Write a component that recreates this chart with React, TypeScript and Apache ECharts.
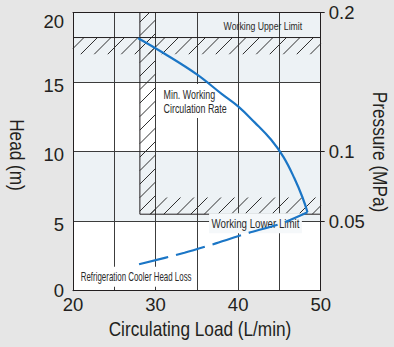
import React, { useEffect, useRef } from 'react';
import * as echarts from 'echarts';

// ---- data ----
const flowTicks = [20, 30, 40, 50];
const headTicks = [0, 5, 10, 15, 20];
const pressureTicks = [0.05, 0.1, 0.2];

const pumpFlow = [27.9, 31.0, 35.0, 38.0, 40.0, 42.0, 44.0, 45.5, 46.8, 47.8, 48.4];
const pumpHead = [18.15, 17.07, 15.55, 14.15, 13.25, 12.1, 10.85, 9.6, 8.1, 6.7, 5.64];

const lossFlow = [28.0, 33.5, 37.3, 41.5, 45.1, 48.4];
const lossHead = [1.9, 2.73, 3.4, 4.2, 4.8, 5.64];

const upperLimit = 18.2;
const lowerLimit = 5.5;
const minRate = 28.1;

const headBands = [[0, 5], [5, 10], [10, 15], [15, 20]];
const hatchRegions = [
  [20, 50, 17.0, 18.2],
  [28.1, 30, 5.5, 20],
  [28.1, 50, 5.5, 6.7],
];

const notes = [
  'Working Upper Limit',
  'Min. Working\nCirculation Rate',
  'Working Lower Limit',
  'Refrigeration Cooler Head Loss',
];
const noteFlow = [43.0, 30.7, 42.1, 20.7];
const noteHead = [19.03, 13.63, 4.85, 1.0];

const axisTitles = ['Circulating Load (L/min)', 'Head (m)', 'Pressure (MPa)'];

// ---- styles ----
const FONT = '"Liberation Sans", Arial, Helvetica, sans-serif';
const INK = '#231f20';
const TINT = '#edf2f5';
const BLUE = '#1b76c6';

const noteStyles = [
  { size: 10.5, scale: 0.83, align: 'center', bg: null },
  { size: 12, scale: 0.74, align: 'left', bg: '#ffffff' },
  { size: 12.5, scale: 0.78, align: 'center', bg: '#f5f8fa' },
  { size: 12, scale: 0.66, align: 'left', bg: '#ffffff' },
];

export default function App() {
  const ref = useRef<HTMLDivElement>(null);
  useEffect(() => {
    if (!ref.current) return;
    const chart = echarts.init(ref.current, null, { renderer: 'svg' });
    const xMin = flowTicks[0];
    const xMax = flowTicks[flowTicks.length - 1];
    const yMax = headTicks[headTicks.length - 1];

    const tickFont = { fontSize: 18.5, fontFamily: FONT, color: INK };
    const labelRich = {
      top: { ...tickFont, padding: [18, 0, 0, 0] },
      mid: { ...tickFont, padding: [6, 0, 0, 0] },
      base: { ...tickFont },
    };

    const titleStyle = { fontSize: 21, fontFamily: FONT, fill: INK, align: 'center', verticalAlign: 'middle' };

    const option: any = {
      animation: false,
      grid: { left: 73, right: 73.3, top: 12.5, bottom: 56.3, containLabel: false },
      graphic: [
        { type: 'text', x: 200, y: 329, scaleX: 0.82, style: { ...titleStyle, text: axisTitles[0] } },
        { type: 'text', x: 17, y: 155, rotation: -Math.PI / 2, scaleX: 0.82, style: { ...titleStyle, text: axisTitles[1] } },
        { type: 'text', x: 380, y: 152, rotation: -Math.PI / 2, scaleX: 0.82, style: { ...titleStyle, text: axisTitles[2] } },
      ],
      xAxis: [
        {
          type: 'value', min: xMin, max: xMax, interval: 5, position: 'bottom',
          axisLine: { show: true, onZero: false, lineStyle: { color: INK, width: 1 } },
          axisTick: { show: false },
          axisLabel: {
            ...tickFont, margin: 4,
            formatter: (v: number) => (flowTicks.includes(v) ? String(v) : ''),
          },
          splitLine: { show: true, lineStyle: { color: '#3c3c3c', width: 1 } },
        },
        {
          type: 'value', min: xMin, max: xMax, position: 'top',
          axisLine: { show: true, onZero: false, lineStyle: { color: INK, width: 1 } },
          axisTick: { show: false }, axisLabel: { show: false }, splitLine: { show: false },
        },
      ],
      yAxis: [
        {
          type: 'value', min: 0, max: yMax, interval: 5, position: 'left',
          axisLine: { show: true, onZero: false, lineStyle: { color: INK, width: 1 } },
          axisTick: { show: false },
          axisLabel: {
            margin: 9,
            formatter: (v: number) => (v === yMax ? `{top|${v}}` : v === 0 ? `{base|${v}}` : `{mid|${v}}`),
            rich: labelRich,
          },
          splitLine: { show: true, lineStyle: { color: '#3c3c3c', width: 1 } },
        },
        {
          type: 'value', min: 0, max: 0.2, interval: 0.05, position: 'right',
          axisLine: { show: true, onZero: false, lineStyle: { color: INK, width: 1 } },
          axisTick: { show: true, length: 4, customValues: pressureTicks, lineStyle: { color: INK } },
          axisLabel: {
            ...tickFont, margin: 8,
            customValues: pressureTicks,
            formatter: (v: number) => (pressureTicks.some((p) => Math.abs(p - v) < 1e-9) ? String(v) : ''),
          },
          splitLine: { show: false },
        },
      ],
      series: [
        {
          type: 'custom', z: -1, silent: true,
          data: headBands,
          encode: { y: [0, 1] },
          renderItem: (params: any, api: any) => {
            const p0 = api.coord([xMin, api.value(1)]);
            const p1 = api.coord([xMax, api.value(0)]);
            return {
              type: 'rect',
              shape: { x: p0[0], y: p0[1], width: p1[0] - p0[0], height: p1[1] - p0[1] },
              style: { fill: params.dataIndex % 2 === 1 ? TINT : '#ffffff' },
            };
          },
        },
        {
          type: 'custom', z: 1, silent: true,
          data: hatchRegions,
          encode: { x: [0, 1], y: [2, 3] },
          renderItem: (params: any, api: any) => {
            const a = api.coord([api.value(0), api.value(3)]);
            const b = api.coord([api.value(1), api.value(2)]);
            const L = a[0], T = a[1], R = b[0], B = b[1];
            const step = 13.5;
            const children: any[] = [];
            const c0 = Math.ceil((L + T) / step) * step;
            for (let c = c0; c <= R + B; c += step) {
              const xs = Math.max(L, c - B);
              const xe = Math.min(R, c - T);
              if (xe - xs > 0.5) {
                children.push({
                  type: 'line',
                  shape: { x1: xs, y1: c - xs, x2: xe, y2: c - xe },
                  style: { stroke: '#2e2e2e', lineWidth: 1 },
                });
              }
            }
            return { type: 'group', children };
          },
        },
        {
          type: 'line', z: 2, symbol: 'none', silent: true,
          data: [[xMin, upperLimit], [xMax, upperLimit]],
          lineStyle: { color: INK, width: 1 },
        },
        {
          type: 'line', z: 2, symbol: 'none', silent: true,
          data: [[minRate, yMax], [minRate, lowerLimit], [xMax, lowerLimit]],
          lineStyle: { color: INK, width: 1 },
        },
        {
          type: 'custom', z: 3, silent: true,
          data: noteFlow.map((f, i) => [f, noteHead[i]]),
          encode: { x: 0, y: 1 },
          renderItem: (params: any, api: any) => {
            const i = params.dataIndex;
            const s = noteStyles[i];
            const p = api.coord([api.value(0), api.value(1)]);
            const style: any = {
              text: notes[i], fill: '#2a2a2a',
              fontSize: s.size, fontFamily: FONT,
              align: s.align, verticalAlign: 'middle', lineHeight: 14,
            };
            if (s.bg) {
              style.backgroundColor = s.bg;
              style.padding = [3, 3, 3, 3];
            }
            return { type: 'text', x: p[0], y: p[1], scaleX: s.scale, style };
          },
        },
        {
          type: 'line', z: 4, symbol: 'none', smooth: 0.3, silent: true,
          data: lossFlow.map((f, i) => [f, lossHead[i]]),
          lineStyle: { color: BLUE, width: 2.2, type: [30, 8] },
        },
        {
          type: 'line', z: 4, symbol: 'none', smooth: 0.4, silent: true,
          data: pumpFlow.map((f, i) => [f, pumpHead[i]]),
          lineStyle: { color: BLUE, width: 2.2 },
        },
      ],
    };
    chart.setOption(option);
    return () => chart.dispose();
  }, []);
  return (
    <div
      ref={ref}
      style={{ position: 'fixed', left: 0, top: 0, width: 394, height: 347, background: '#e6e6e6' }}
    />
  );
}
